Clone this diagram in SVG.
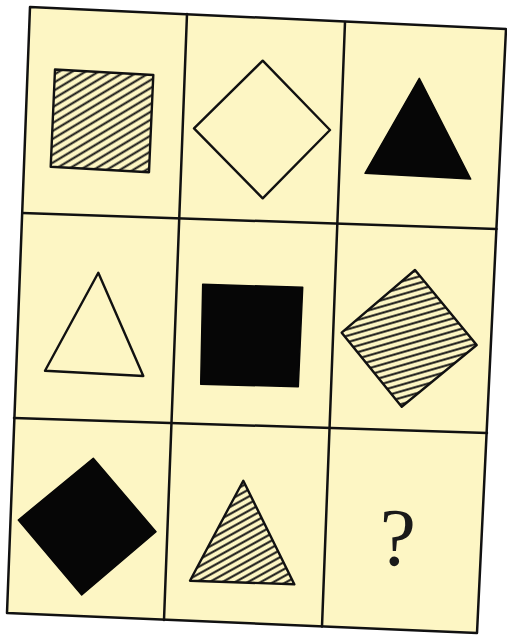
<svg xmlns="http://www.w3.org/2000/svg" width="507" height="635" viewBox="0 0 507 635">
  <style>
    .frame { fill: #fdf6c4; stroke: #111; stroke-width: 2.5; stroke-linejoin: round; }
    .grid line { stroke: #111; stroke-width: 2.5; stroke-linecap: round; }
    .outline { fill: none; stroke: #111; stroke-width: 2.4; stroke-linejoin: round; }
    .solid { fill: #060606; stroke: #060606; stroke-width: 1.5; stroke-linejoin: round; }
    .hatchbox { stroke: #111; stroke-width: 2.4; stroke-linejoin: round; }
    .q { font-family: "Liberation Serif", "DejaVu Serif", serif; font-size: 82px; fill: #1a1a1a; }
  </style>
  <defs>
    <pattern id="hatchSq" patternUnits="userSpaceOnUse" width="20" height="6.8" patternTransform="rotate(-31)">
      <line x1="0" y1="3.4" x2="20" y2="3.4" stroke="#111" stroke-width="2"/>
    </pattern>
    <pattern id="hatchDia" patternUnits="userSpaceOnUse" width="20" height="6.2" patternTransform="rotate(-16)">
      <line x1="0" y1="3.1" x2="20" y2="3.1" stroke="#111" stroke-width="2"/>
    </pattern>
    <pattern id="hatchTri" patternUnits="userSpaceOnUse" width="20" height="6.2" patternTransform="rotate(-29)">
      <line x1="0" y1="3.1" x2="20" y2="3.1" stroke="#111" stroke-width="2"/>
    </pattern>
  </defs>
  <rect x="0" y="0" width="507" height="635" fill="#ffffff"/>
  <g id="board">
    <polygon class="frame" points="30,7 506,29 477,633 7,613"/>
    <g class="grid">
      <line x1="187" y1="14" x2="164" y2="620"/>
      <line x1="345" y1="22" x2="322" y2="626.5"/>
      <line x1="22.5" y1="213" x2="496.5" y2="229"/>
      <line x1="14" y1="418" x2="487" y2="433"/>
    </g>
  </g>
  <g id="cell-1-1">
    <polygon class="hatchbox" fill="url(#hatchSq)" points="55,69.5 153.3,75 149,172.3 50.7,166.7"/>
  </g>
  <g id="cell-1-2">
    <polygon class="outline" points="262.7,60.7 330,130 262.7,198.3 194,128.3"/>
  </g>
  <g id="cell-1-3">
    <polygon class="solid" points="419.3,78.3 470.7,179 365,173.3"/>
  </g>
  <g id="cell-2-1">
    <polygon class="outline" points="98.3,272.7 143.3,376 45,370.7"/>
  </g>
  <g id="cell-2-2">
    <polygon class="solid" points="202.7,284.3 302.7,287.3 298.3,386.7 200.7,384.3"/>
  </g>
  <g id="cell-2-3">
    <polygon class="hatchbox" fill="url(#hatchDia)" points="415,270 476.7,345 401.7,406.7 341.7,332.7"/>
  </g>
  <g id="cell-3-1">
    <polygon class="solid" points="93.3,458.3 156,531.7 81.7,595 18.3,520"/>
  </g>
  <g id="cell-3-2">
    <polygon class="hatchbox" fill="url(#hatchTri)" points="243.3,480.7 294.3,584.3 190,580.7"/>
  </g>
  <g id="cell-3-3">
    <text class="q" x="397" y="565" text-anchor="middle" transform="rotate(2.5 397 540)">?</text>
  </g>
</svg>
